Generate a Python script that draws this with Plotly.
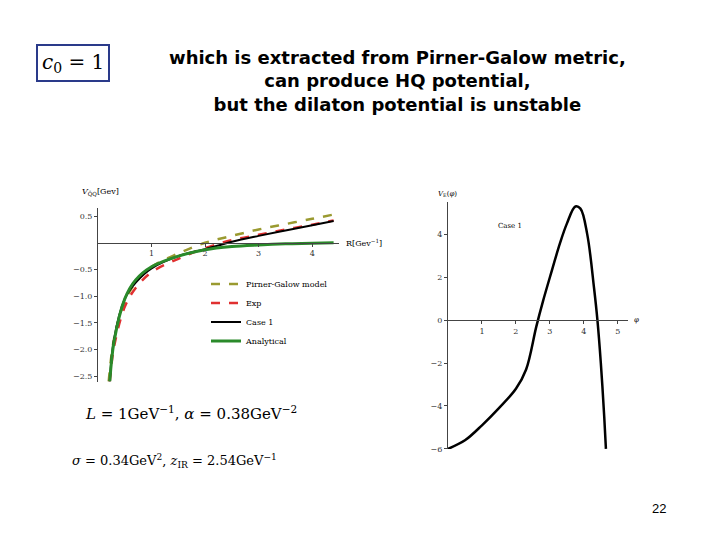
import plotly.graph_objects as go

R = [0.2, 0.3, 0.5, 0.7, 1, 1.5, 2, 2.5, 3, 3.5, 4, 4.4]
pirner = [-2.6, -1.8, -1.1, -0.75, -0.45, -0.2, 0.0, 0.13, 0.25, 0.35, 0.45, 0.53]
R2 = [0.22, 0.3, 0.5, 0.7, 1, 1.5, 2, 2.5, 3, 3.5, 4, 4.4]
exp_v = [-2.6, -1.95, -1.2, -0.85, -0.55, -0.3, -0.1, 0.05, 0.15, 0.25, 0.34, 0.42]
case1 = [-2.6, -1.8, -1.05, -0.75, -0.48, -0.25, -0.12, 0.02, 0.13, 0.23, 0.33, 0.41]
analyt = [-2.6, -1.85, -1.05, -0.7, -0.45, -0.25, -0.13, -0.07, -0.04, -0.02, -0.01, 0.0]

phi = [0, 0.5, 1, 1.5, 2, 2.3, 2.6, 2.8, 3, 3.3, 3.5, 3.75, 3.9, 4.1, 4.3, 4.4, 4.5, 4.6, 4.65]
vphi = [-6, -5.6, -4.9, -4.1, -3.2, -2.3, -0.3, 0.9, 2.0, 3.6, 4.5, 5.3, 5.2, 4.0, 1.5, 0.0, -2.0, -4.5, -6.0]

fig = go.Figure()
fig.add_trace(go.Scatter(x=R, y=pirner, mode="lines", line=dict(color="#9a9a30", dash="dash", width=2.5, shape="spline"), name="Pirner-Galow model"))
fig.add_trace(go.Scatter(x=R2, y=exp_v, mode="lines", line=dict(color="#e03030", dash="dash", width=2.5, shape="spline"), name="Exp"))
fig.add_trace(go.Scatter(x=R2, y=case1, mode="lines", line=dict(color="black", width=2, shape="spline"), name="Case 1"))
fig.add_trace(go.Scatter(x=R2, y=analyt, mode="lines", line=dict(color="#2a8a2a", width=3, shape="spline"), name="Analytical"))
fig.add_trace(go.Scatter(x=phi, y=vphi, mode="lines", line=dict(color="black", width=2.5, shape="spline"), showlegend=False, xaxis="x2", yaxis="y2"))

ax = dict(showgrid=False, zeroline=False, showline=True, linecolor="#444", ticks="outside", ticklen=3, tickfont=dict(size=8, family="DejaVu Serif", color="#333"))
fig.update_layout(
    width=720, height=540, margin=dict(l=0, r=0, t=0, b=0),
    paper_bgcolor="white", plot_bgcolor="rgba(0,0,0,0)",
    xaxis=dict(ax, range=[0, 4.5], domain=[90/720, 331/720], anchor="free", position=303/540, tickvals=[1, 2, 3, 4]),
    yaxis=dict(ax, range=[-2.6, 0.65], domain=[163/540, 338/540], tickvals=[0.5, -0.5, -1.0, -1.5, -2.0, -2.5], ticktext=["0.5", "−0.5", "−1.0", "−1.5", "−2.0", "−2.5"]),
    xaxis2=dict(ax, range=[0, 5.3], domain=[440/720, 620/720], anchor="free", position=225/540, tickvals=[1, 2, 3, 4, 5]),
    yaxis2=dict(ax, range=[-6, 5.5], domain=[95/540, 344/540], anchor="x2", tickvals=[-6, -4, -2, 0, 2, 4], ticktext=["−6", "−4", "−2", "0", "2", "4"]),
    legend=dict(x=198/720, y=1-264/540, xanchor="left", yanchor="top", bgcolor="rgba(0,0,0,0)", font=dict(size=8, family="DejaVu Serif", color="black"), tracegroupgap=6),
    showlegend=True,
)
P = dict(xref="paper", yref="paper", showarrow=False, yanchor="middle")
ann = [
    dict(P, x=389/720, y=1-74/540, xanchor="center", text="<b>which is extracted from Pirner-Galow metric,<br>can produce HQ potential,<br>but the dilaton potential is unstable</b>", font=dict(size=18, family="DejaVu Sans", color="black"), align="center"),
    dict(P, x=65/720, y=1-56/540, xanchor="center", text="<i>c</i><sub>0</sub> = 1", font=dict(size=20, family="DejaVu Serif", color="black"), bordercolor="#2a3a8a", borderwidth=2, borderpad=4),
    dict(P, x=72/720, y=1-186/540, text="<i>V</i><sub>Q\u0304Q</sub>[Gev]", font=dict(size=8, family="DejaVu Serif", color="black"), xanchor="left"),
    dict(P, x=336/720, y=1-237/540, text="R[Gev<sup>−1</sup>]", font=dict(size=8, family="DejaVu Serif", color="black"), xanchor="left"),
    dict(P, x=428/720, y=1-188/540, text="<i>V</i><sub>E</sub>(<i>φ</i>)", font=dict(size=7, family="DejaVu Serif", color="black"), xanchor="left"),
    dict(P, x=624/720, y=1-315/540, text="<i>φ</i>", font=dict(size=7, family="DejaVu Serif", color="black"), xanchor="left"),
    dict(P, x=488/720, y=1-220/540, text="Case 1", font=dict(size=7, family="DejaVu Serif", color="black"), xanchor="left"),
    dict(P, x=75/720, y=1-409/540, text="<i>L</i> = 1GeV<sup>−1</sup>, <i>α</i> = 0.38GeV<sup>−2</sup>", font=dict(size=15, family="DejaVu Serif", color="black"), xanchor="left"),
    dict(P, x=62/720, y=1-457/540, text="<i>σ</i> = 0.34GeV<sup>2</sup>, <i>z</i><sub>IR</sub> = 2.54GeV<sup>−1</sup>", font=dict(size=13, family="DejaVu Serif", color="black"), xanchor="left"),
    dict(P, x=651/720, y=1-505/540, xanchor="center", text="22", font=dict(size=13, family="Liberation Sans", color="black")),
]
fig.update_layout(annotations=ann)
fig.write_html("out.html")
